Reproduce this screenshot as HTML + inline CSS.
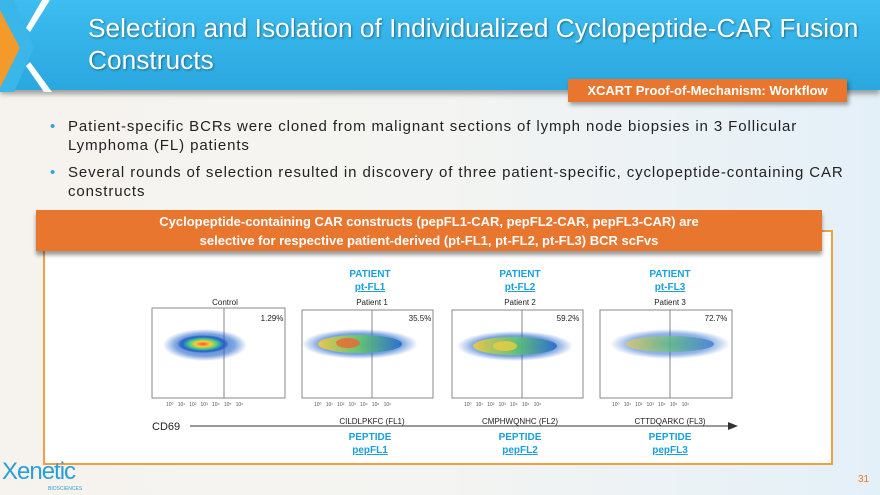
<!DOCTYPE html>
<html><head><style>
body{margin:0;width:880px;height:495px;overflow:hidden;font-family:"Liberation Sans",sans-serif;background:linear-gradient(90deg,#f6f3ee 0%,#f4f4f2 50%,#e4f0f8 100%);position:relative}
.a{position:absolute}
</style></head><body>
<div class="a" style="left:0;top:0;width:880px;height:90px;background:linear-gradient(180deg,#3dbdf0,#29a7df);box-shadow:0 4px 5px rgba(0,0,0,.35)"></div>
<svg class="a" style="left:0;top:0" width="60" height="92">
<polygon points="0,10 20,48 0,88" fill="#f39a2b"/>
<polygon points="0,0 14,0 34,48 14,92 0,92 0,88 20,48 0,10" fill="#3ab6e8"/>
<polygon points="42,0 50,0 30,32 26,28" fill="#fff"/>
<polygon points="26,66 30,62 52,92 44,92" fill="#fff"/>
</svg>
<div class="a" style="left:88px;top:12px;color:#fff;font-size:26.3px;line-height:32px;text-shadow:1px 1px 2px rgba(0,0,0,.4);white-space:nowrap">Selection and Isolation of Individualized Cyclopeptide-CAR Fusion<br>Constructs</div>
<div class="a" style="left:568px;top:79px;width:279px;height:23px;background:#e8762f;color:#fff;font-weight:bold;font-size:13px;line-height:23px;text-align:center;box-shadow:2px 3px 4px rgba(0,0,0,.35)">XCART Proof-of-Mechanism: Workflow</div>
<div class="a" style="left:50px;top:117px;width:820px;font-size:15px;letter-spacing:0.9px;color:#222;line-height:19px;white-space:nowrap">
<div style="position:relative;padding-left:18px"><span style="position:absolute;left:0;color:#29a7df">•</span>Patient-specific BCRs were cloned from malignant sections of lymph node biopsies in 3 Follicular<br>Lymphoma (FL) patients</div>
<div style="position:relative;padding-left:18px;margin-top:8px"><span style="position:absolute;left:0;color:#29a7df">•</span>Several rounds of selection resulted in discovery of three patient-specific, cyclopeptide-containing CAR<br>constructs</div>
</div>
<div class="a" style="left:43px;top:230px;width:786px;height:231px;border:2px solid #f0a040;background:#fff"></div>
<div class="a" style="left:36px;top:210px;width:786px;height:41px;background:#e8762f;color:#fff;font-weight:bold;font-size:13px;line-height:19px;text-align:center;padding-top:2px;box-sizing:border-box;box-shadow:0 4px 4px rgba(0,0,0,.4)">Cyclopeptide-containing CAR constructs (pepFL1-CAR, pepFL2-CAR, pepFL3-CAR) are<br>selective for respective patient-derived (pt-FL1, pt-FL2, pt-FL3) BCR scFvs</div>
<svg class="a" style="left:0;top:260px" width="880" height="200" font-family="Liberation Sans, sans-serif">
<defs><radialGradient id="g"><stop offset="0" stop-color="#e53"/><stop offset=".3" stop-color="#fc3"/><stop offset=".55" stop-color="#4c8"/><stop offset=".8" stop-color="#26c"/><stop offset="1" stop-color="#22a" stop-opacity="0"/></radialGradient>
<radialGradient id="b"><stop offset="0" stop-color="#26c" stop-opacity=".9"/><stop offset=".7" stop-color="#26c" stop-opacity=".6"/><stop offset="1" stop-color="#26c" stop-opacity="0"/></radialGradient>
<linearGradient id="h"><stop offset="0" stop-color="#fc3"/><stop offset=".5" stop-color="#6c6"/><stop offset="1" stop-color="#26c"/></linearGradient></defs>
<g font-size="10" font-weight="bold" fill="#1aa0dc" text-anchor="middle">
<text x="370" y="17">PATIENT</text><text x="370" y="30" text-decoration="underline">pt-FL1</text>
<text x="520" y="17">PATIENT</text><text x="520" y="30" text-decoration="underline">pt-FL2</text>
<text x="670" y="17">PATIENT</text><text x="670" y="30" text-decoration="underline">pt-FL3</text>
<text x="370" y="180">PEPTIDE</text><text x="370" y="193" text-decoration="underline">pepFL1</text>
<text x="520" y="180">PEPTIDE</text><text x="520" y="193" text-decoration="underline">pepFL2</text>
<text x="670" y="180">PEPTIDE</text><text x="670" y="193" text-decoration="underline">pepFL3</text>
</g>
<g font-size="8" fill="#222" text-anchor="middle">
<text x="225" y="45">Control</text><text x="372" y="45">Patient 1</text><text x="520" y="45">Patient 2</text><text x="670" y="45">Patient 3</text>
<text x="272" y="61">1.29%</text><text x="420" y="61">35.5%</text><text x="568" y="61">59.2%</text><text x="716" y="61">72.7%</text>
<text x="372" y="164">CILDLPKFC (FL1)</text><text x="520" y="164">CMPHWQNHC (FL2)</text><text x="670" y="164">CTTDQARKC (FL3)</text>
</g>
<g fill="none" stroke="#888" stroke-width="1">
<rect x="152" y="48" width="133" height="90"/><rect x="302" y="50" width="131" height="88"/><rect x="452" y="50" width="131" height="88"/><rect x="600" y="50" width="132" height="88"/>
<line x1="224" y1="48" x2="224" y2="138"/><line x1="372" y1="50" x2="372" y2="138"/><line x1="522" y1="50" x2="522" y2="138"/><line x1="670" y1="50" x2="670" y2="138"/>
</g>
<ellipse cx="205" cy="85" rx="42" ry="16" fill="url(#b)"/>
<ellipse cx="203" cy="84" rx="26" ry="9" fill="url(#g)"/>
<ellipse cx="360" cy="84" rx="58" ry="15" fill="url(#b)"/>
<ellipse cx="360" cy="84" rx="42" ry="9" fill="url(#h)" opacity=".85"/><ellipse cx="348" cy="83" rx="12" ry="5" fill="#e63" opacity=".8"/>
<ellipse cx="515" cy="86" rx="58" ry="15" fill="url(#b)"/>
<ellipse cx="515" cy="86" rx="42" ry="9" fill="url(#h)" opacity=".85"/><ellipse cx="505" cy="86" rx="12" ry="5" fill="#ec4" opacity=".8"/>
<ellipse cx="670" cy="84" rx="60" ry="15" fill="url(#b)" opacity=".8"/>
<ellipse cx="670" cy="84" rx="44" ry="8" fill="url(#h)" opacity=".6"/>
<g font-size="5" fill="#555">
<text x="166" y="146">10⁰ &#160; 10¹ &#160; 10² &#160; 10³ &#160; 10⁴ &#160; 10⁵ &#160; 10⁶</text>
<text x="314" y="146">10⁰ &#160; 10¹ &#160; 10² &#160; 10³ &#160; 10⁴ &#160; 10⁵ &#160; 10⁶</text>
<text x="464" y="146">10⁰ &#160; 10¹ &#160; 10² &#160; 10³ &#160; 10⁴ &#160; 10⁵ &#160; 10⁶</text>
<text x="612" y="146">10⁰ &#160; 10¹ &#160; 10² &#160; 10³ &#160; 10⁴ &#160; 10⁵ &#160; 10⁶</text>
</g>
<text x="152" y="170" font-size="11" fill="#222">CD69</text>
<line x1="190" y1="166" x2="730" y2="166" stroke="#333" stroke-width="1"/>
<polygon points="738,166 728,162 728,170" fill="#333"/>
</svg>
<div class="a" style="left:2px;top:458px;font-size:24px;color:#2a9fd6;letter-spacing:-1px">Xenetic</div>
<div class="a" style="left:48px;top:486px;font-size:5px;color:#2a9fd6">BIOSCIENCES</div>
<div class="a" style="left:858px;top:474px;font-size:10px;color:#e8762f">31</div>
</body></html>
